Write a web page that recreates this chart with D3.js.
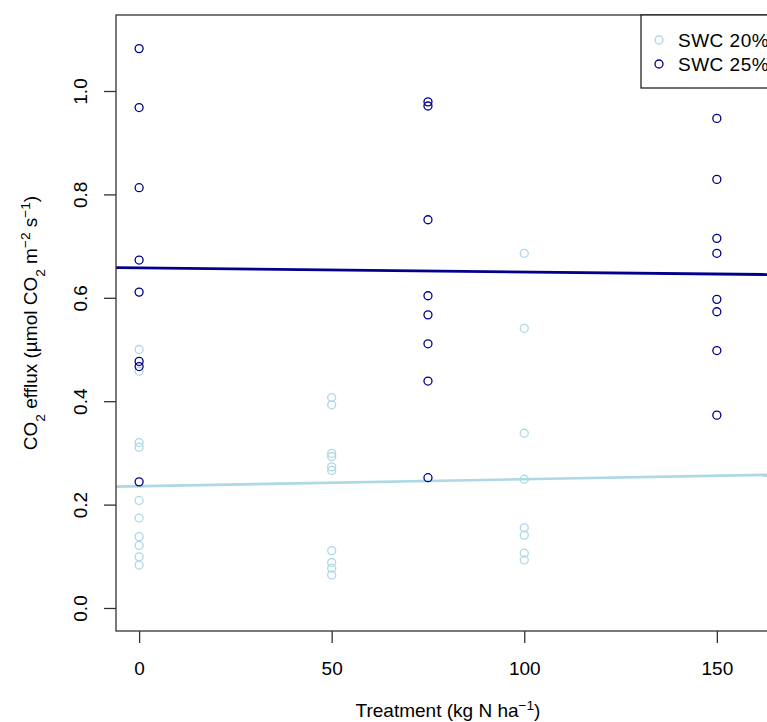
<!DOCTYPE html>
<html><head><meta charset="utf-8">
<script src="https://cdn.jsdelivr.net/npm/d3@7"></script>
<style>
html,body{margin:0;padding:0;background:#fff;}
text{font-family:"Liberation Sans",Arial,sans-serif;fill:#000;}
</style></head>
<body><svg id="c" width="767" height="722"></svg>
<script>
// ---- data ----
const seriesNames = ["SWC 20%", "SWC 25%"];
const seriesColors = ["lightblue", "darkblue"];
const swc20_x = [0,0,0,0,0,0,0,0,0,0, 50,50,50,50,50,50,50,50,50,50, 100,100,100,100,100,100,100,100];
const swc20_y = [0.500,0.458,0.320,0.311,0.208,0.174,0.138,0.121,0.099,0.083,
                 0.407,0.393,0.299,0.293,0.273,0.266,0.111,0.088,0.077,0.064,
                 0.686,0.541,0.338,0.249,0.155,0.141,0.106,0.093];
const swc25_x = [0,0,0,0,0,0,0,0, 75,75,75,75,75,75,75,75, 150,150,150,150,150,150,150,150];
const swc25_y = [1.082,0.968,0.813,0.673,0.611,0.477,0.467,0.244,
                 0.979,0.971,0.751,0.604,0.567,0.511,0.439,0.252,
                 0.947,0.829,0.715,0.686,0.597,0.573,0.498,0.373];
const fitIntercept = [0.2355, 0.6577];
const fitSlope = [0.000135, -0.000078];
const xTicks = [0, 50, 100, 150];
const yTicks = [0.0, 0.2, 0.4, 0.6, 0.8, 1.0];
const xDomain = [-6, 166.4];
const yDomain = [-0.0445, 1.147];

// ---- layout ----
const L = 116, R = 780, T = 15, B = 631;
const FS = 19;
const svg = d3.select("#c");
svg.append("rect").attr("width",767).attr("height",722).attr("fill","#fff");
const x = d3.scaleLinear().domain(xDomain).range([L, R]);
const y = d3.scaleLinear().domain(yDomain).range([B, T]);

svg.append("defs").append("clipPath").attr("id","clip")
  .append("rect").attr("x",L).attr("y",T).attr("width",R-L).attr("height",B-T);

// fit lines
const g = svg.append("g").attr("clip-path","url(#clip)");
[0,1].forEach(i => {
  const line = d3.line().x(d => x(d)).y(d => y(fitIntercept[i] + fitSlope[i]*d));
  g.append("path").datum(xDomain).attr("d", line)
    .attr("fill","none").attr("stroke", seriesColors[i])
    .attr("stroke-width", i === 0 ? 2.6 : 2.8);
});

// points
const series = [[swc20_x, swc20_y],[swc25_x, swc25_y]];
series.forEach(([xs, ys], i) => {
  g.selectAll(null).data(xs.map((d,k)=>[d, ys[k]])).enter().append("circle")
    .attr("cx", d => x(d[0])).attr("cy", d => y(d[1])).attr("r", 4)
    .attr("fill","none").attr("stroke", seriesColors[i]).attr("stroke-width", 1.3);
});

// frame
svg.append("rect").attr("x",L).attr("y",T).attr("width",R-L).attr("height",B-T)
  .attr("fill","none").attr("stroke","#333").attr("stroke-width",1.3);

// axes
const xAxis = d3.axisBottom(x).tickValues(xTicks).tickSize(12).tickPadding(19).tickFormat(d3.format("d"));
const xg = svg.append("g").attr("transform",`translate(0,${B})`).call(xAxis);
xg.select(".domain").remove();
xg.selectAll("line").attr("stroke","#333").attr("stroke-width",1.3);
xg.selectAll("text").attr("font-size",FS).attr("font-family","Liberation Sans, Arial, sans-serif").attr("fill","#000");

const yAxis = d3.axisLeft(y).tickValues(yTicks).tickSize(12).tickFormat(d3.format(".1f"));
const yg = svg.append("g").attr("transform",`translate(${L},0)`).call(yAxis);
yg.select(".domain").remove();
yg.selectAll("line").attr("stroke","#333").attr("stroke-width",1.3);
yg.selectAll("text").attr("font-size",FS).attr("font-family","Liberation Sans, Arial, sans-serif").attr("fill","#000")
  .attr("x",null).attr("dy",null).attr("text-anchor","middle")
  .attr("transform","translate(-29.5,0) rotate(-90)");

// axis titles
const xt = svg.append("text").attr("x",(L+R)/2).attr("y",717).attr("text-anchor","middle").attr("font-size",FS);
xt.append("tspan").text("Treatment (kg N ha");
xt.append("tspan").attr("baseline-shift","super").attr("font-size",FS*0.72).text("\u22121");
xt.append("tspan").text(")");

const yt = svg.append("text").attr("transform",`translate(37,${(T+B)/2}) rotate(-90)`).attr("text-anchor","middle").attr("font-size",FS);
yt.append("tspan").text("CO");
yt.append("tspan").attr("baseline-shift","sub").attr("font-size",FS*0.72).text("2");
yt.append("tspan").text(" efflux (\u00b5mol CO");
yt.append("tspan").attr("baseline-shift","sub").attr("font-size",FS*0.72).text("2");
yt.append("tspan").text(" m");
yt.append("tspan").attr("baseline-shift","super").attr("font-size",FS*0.72).text("\u22122");
yt.append("tspan").text(" s");
yt.append("tspan").attr("baseline-shift","super").attr("font-size",FS*0.72).text("\u22121");
yt.append("tspan").text(")");

// legend
const lg = svg.append("g");
lg.append("rect").attr("x",641).attr("y",T).attr("width",R-641).attr("height",88-T)
  .attr("fill","#fff").attr("stroke","#111").attr("stroke-width",1.2);
seriesNames.forEach((n,i) => {
  const cy = 40 + i*24;
  lg.append("circle").attr("cx",659).attr("cy",cy).attr("r",4)
    .attr("fill","none").attr("stroke",seriesColors[i]).attr("stroke-width",1.3);
  lg.append("text").attr("x",678).attr("y",cy+7).attr("font-size",FS).attr("letter-spacing",0.5).text(n);
});
</script></body></html>
